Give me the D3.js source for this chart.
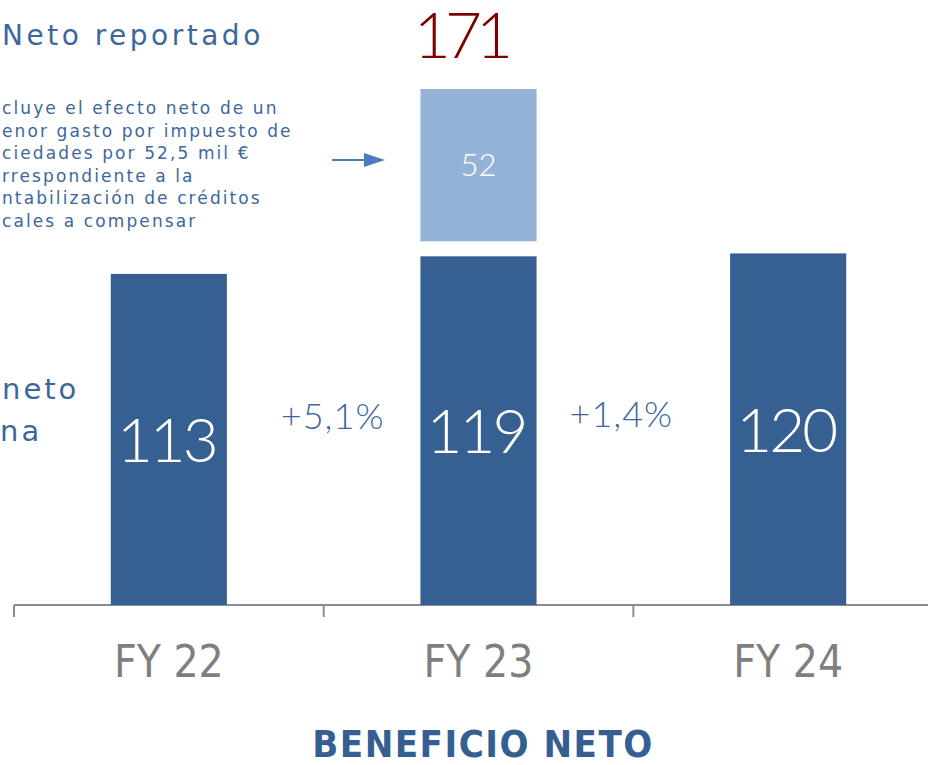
<!DOCTYPE html>
<html><head><meta charset="utf-8">
<script src="https://cdn.jsdelivr.net/npm/d3@7"></script>
<style>
html,body{margin:0;padding:0;background:#fff;}
svg{display:block;}
</style></head>
<body>
<svg id="chart" width="928" height="765"></svg>
<script>
const categories = ["FY 22", "FY 23", "FY 24"];
const baseValues = [113, 119, 120];
const extraValues = [0, 52, 0];
const reportedLabels = ["", "171", ""];
const growthLabels = ["+5,1%", "+1,4%"];
const noteLines = ["cluye el efecto neto de un", "enor gasto por impuesto de", "ciedades por 52,5 mil €", "rrespondiente a la", "ntabilización de créditos", "cales a compensar"];
const sideLabels = ["neto", "na"];
const headerLabel = "Neto reportado";
const titleText = "BENEFICIO NETO";

const svg = d3.select("#chart");
const W = 928, H = 765;
const baseY = 605;
const darkBlue = "#376092", lightBlue = "#95b3d7", textBlue = "#3d679b", gray = "#7f7f7f";
const mainFont = "'DejaVu Sans', 'Noto Sans', sans-serif";
const numFont = "Lato, 'Open Sans', sans-serif";
const narrowFont = "'Liberation Sans Narrow', 'DejaVu Sans Condensed', 'Roboto Condensed', sans-serif";

const x = d3.scaleBand().domain(categories).range([14, 943]).paddingInner(0).paddingOuter(0);
const y = d3.scaleLinear().domain([0, 180]).range([baseY, baseY - 180 * 2.93]);
const barW = x.bandwidth() * 0.375;
const gapPx = 15;

// axis
const axis = d3.axisBottom(x).tickSize(10).tickFormat("");
const gAxis = svg.append("g").attr("transform", `translate(0,${baseY})`).call(axis);
gAxis.select(".domain").remove();
gAxis.selectAll(".tick").remove();
gAxis.append("line").attr("x1", 14).attr("x2", W).attr("y1", 0).attr("y2", 0).attr("stroke", "#8c8c8c").attr("stroke-width", 2);
const tickXs = categories.map(c => x(c));
gAxis.selectAll(".tk").data(tickXs).join("line").attr("class", "tk")
  .attr("x1", d => d).attr("x2", d => d).attr("y1", 0).attr("y2", 12)
  .attr("stroke", "#8c8c8c").attr("stroke-width", 2);

// category labels
svg.selectAll(".cat").data(categories).join("text").attr("class", "cat")
  .attr("x", d => x(d) + x.bandwidth() / 2).attr("y", 677)
  .attr("text-anchor", "middle").attr("font-family", narrowFont)
  .attr("font-size", 44).attr("fill", gray).text(d => d);

// base bars
const cx = d => x(d) + x.bandwidth() / 2;
svg.selectAll(".bar").data(categories).join("rect").attr("class", "bar")
  .attr("x", d => cx(d) - barW / 2).attr("width", barW)
  .attr("y", (d, i) => y(baseValues[i])).attr("height", (d, i) => baseY - y(baseValues[i]))
  .attr("fill", darkBlue);

svg.selectAll(".barLbl").data(categories).join("text").attr("class", "barLbl")
  .attr("x", d => cx(d) - 2.5).attr("y", (d, i) => (y(baseValues[i]) + baseY) / 2)
  .attr("dy", "0.36em").attr("text-anchor", "middle")
  .attr("font-family", numFont).attr("font-weight", 300).attr("font-size", 62)
  .attr("letter-spacing", -3)
  .attr("fill", "#fff").text((d, i) => baseValues[i]);

// extra bars
const extras = categories.map((c, i) => ({c, base: baseValues[i], v: extraValues[i], rep: reportedLabels[i]})).filter(d => d.v > 0);
svg.selectAll(".xbar").data(extras).join("rect").attr("class", "xbar")
  .attr("x", d => cx(d.c) - barW / 2).attr("width", barW)
  .attr("y", d => y(d.base + d.v) - gapPx).attr("height", d => y(d.base) - y(d.base + d.v))
  .attr("fill", lightBlue);
svg.selectAll(".xlbl").data(extras).join("text").attr("class", "xlbl")
  .attr("x", d => cx(d.c)).attr("y", d => (y(d.base + d.v) + y(d.base)) / 2 - gapPx)
  .attr("dy", "0.36em").attr("text-anchor", "middle")
  .attr("font-family", numFont).attr("font-weight", 300).attr("font-size", 31)
  .attr("fill", "#fff").text(d => d.v);
svg.selectAll(".rep").data(extras).join("text").attr("class", "rep")
  .attr("x", d => cx(d.c) - 18).attr("y", 58).attr("text-anchor", "middle")
  .attr("font-family", numFont).attr("font-weight", 300).attr("font-size", 64)
  .attr("letter-spacing", -6)
  .attr("fill", "#7b0000").text(d => d.rep);

// growth labels
const growthOffsets = [9, -12];
svg.selectAll(".gr").data(growthLabels).join("text").attr("class", "gr")
  .attr("x", (d, i) => x(categories[i + 1]) + growthOffsets[i]).attr("y", (d, i) => i === 0 ? 429 : 427)
  .attr("text-anchor", "middle").attr("font-family", numFont).attr("font-weight", 300)
  .attr("font-size", 36).attr("letter-spacing", 1).attr("fill", textBlue).text(d => d);

// header & note
svg.append("text").attr("x", 2).attr("y", 45).attr("font-family", mainFont)
  .attr("font-size", 28).attr("letter-spacing", 3.5).attr("fill", textBlue).text(headerLabel);
svg.selectAll(".note").data(noteLines).join("text").attr("class", "note")
  .attr("x", 2).attr("y", (d, i) => 114 + i * 22.5)
  .attr("font-family", mainFont).attr("font-size", 17).attr("letter-spacing", 2.1)
  .attr("fill", textBlue).text(d => d);

// arrow
svg.append("line").attr("x1", 332).attr("x2", 368).attr("y1", 160).attr("y2", 160)
  .attr("stroke", "#4a7ebb").attr("stroke-width", 2);
svg.append("path").attr("d", "M364,153 L385,160 L364,167 Z").attr("fill", "#4a7ebb");

// side labels
svg.selectAll(".side").data(sideLabels).join("text").attr("class", "side")
  .attr("x", (d, i) => i === 0 ? 2 : 0).attr("y", (d, i) => 399 + i * 42)
  .attr("font-family", mainFont).attr("font-size", 29).attr("letter-spacing", 3)
  .attr("fill", textBlue).text(d => d);

// title
svg.append("text").attr("x", 483).attr("y", 757).attr("text-anchor", "middle")
  .attr("font-family", narrowFont).attr("font-weight", "bold").attr("font-size", 38)
  .attr("letter-spacing", 1.5).attr("fill", "#365f91").text(titleText);
</script>
</body></html>
